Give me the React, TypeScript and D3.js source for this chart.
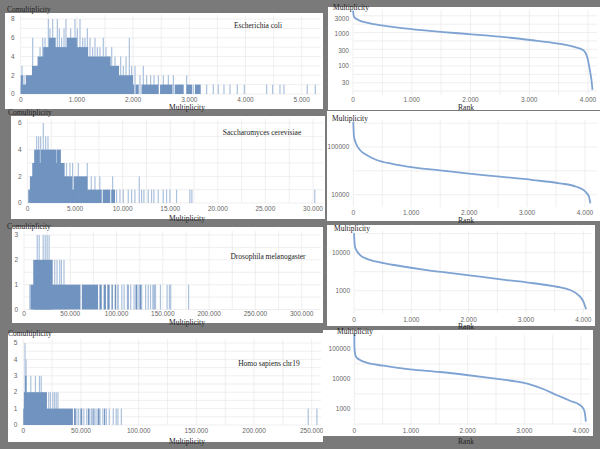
import * as d3 from 'd3'

// ---- histogram data: solid blocks [from, to, count] and single bars [multiplicity, count] ----
const ecoliSolid: [number, number, number][] = [
  [0, 40, 2], [0, 2020, 1], [2045, 2100, 1], [2150, 2450, 1], [2480, 2700, 1], [2740, 2900, 1],
  [2950, 3050, 1], [3100, 3200, 1], [90, 2000, 2], [200, 1750, 3], [300, 1600, 4],
  [400, 900, 5], [950, 1200, 5], [500, 620, 6], [820, 1000, 6],
]
const ecoliBars: [number, number][] = [
  [23, 3], [59, 2], [213, 6], [272, 3], [344, 5], [391, 6], [433, 6], [492, 8], [522, 7], [569, 8],
  [610, 6], [652, 8], [688, 7], [729, 6], [771, 7], [806, 8], [848, 6], [889, 7], [925, 6], [966, 8],
  [1008, 7], [1055, 8], [1103, 6], [1144, 6], [1186, 7], [1233, 6], [1280, 5], [1322, 6], [1364, 5],
  [1411, 5], [1470, 6], [1518, 5], [1559, 4], [1619, 5], [1678, 4], [1737, 3], [1779, 4], [1826, 3],
  [1874, 4], [1933, 6], [1974, 3], [2034, 3], [2123, 2], [2182, 3], [2241, 2], [2312, 2], [2372, 2],
  [2449, 2], [2538, 2], [2627, 2], [2716, 2], [2834, 1], [2953, 2], [3071, 1], [3190, 1], [3309, 1],
  [3427, 1], [3516, 1], [3617, 1], [3724, 1], [3854, 1], [3979, 1], [4376, 1], [4483, 1], [4613, 1],
  [4684, 1], [5099, 1], [5242, 1],
]

const yeastSolid: [number, number, number][] = [
  [80, 7800, 1], [7900, 8700, 1], [8800, 9200, 1], [250, 4700, 2], [4850, 6300, 2],
  [500, 3900, 3], [700, 1300, 4], [1400, 3000, 4], [3100, 3500, 4],
]
const yeastBars: [number, number][] = [
  [962, 5], [1172, 5], [1382, 5], [1662, 6], [1907, 5], [2152, 5], [2432, 4], [2700, 4], [3060, 4],
  [3412, 4], [3700, 3], [4100, 3], [4462, 3], [4742, 3], [5337, 3], [6282, 3], [6700, 2], [7087, 2],
  [7600, 2], [8942, 2], [11742, 2], [9012, 1], [9362, 1], [9712, 1], [10062, 1], [10587, 1],
  [10937, 1], [11287, 1], [11987, 1], [12232, 1], [12687, 1], [13037, 1], [13282, 1], [13737, 1],
  [14262, 1], [14612, 1], [14962, 1], [15662, 1], [17062, 1], [17272, 1], [30187, 1],
]

const flySolid: [number, number, number][] = [
  [7000, 61000, 1], [62500, 80000, 1], [81500, 84000, 1], [86000, 88500, 1], [90000, 92500, 1],
  [94500, 96000, 1], [98000, 99500, 1], [101000, 102000, 1], [112000, 113000, 1], [121000, 122500, 1],
  [125000, 126500, 1], [140000, 141000, 1], [10000, 31000, 2],
]
const flyBars: [number, number][] = [
  [6300, 1], [14300, 3], [16400, 3], [20700, 3], [22900, 3], [25000, 3], [27100, 3], [33200, 2],
  [35700, 2], [38600, 2], [40400, 2], [43200, 2], [105700, 1], [108200, 1], [111700, 1], [115300, 1],
  [118900, 1], [120700, 1], [124200, 1], [127100, 1], [131400, 1], [134200, 1], [136700, 1],
  [139200, 1], [142100, 1], [147400, 1], [154600, 1], [157100, 1], [158500, 1], [177800, 1],
]

const humanSolid: [number, number, number][] = [
  [0, 43000, 1], [44000, 45500, 1], [49500, 51000, 1], [56000, 57000, 1], [60000, 61000, 1],
  [64500, 66000, 1], [70000, 71000, 1], [500, 20500, 2], [1500, 2800, 3],
]
const humanBars: [number, number][] = [
  [1500, 5], [2400, 4], [6500, 3], [10500, 3], [14000, 3], [15500, 3], [22000, 2], [23500, 2],
  [25500, 2], [27000, 2], [28500, 2], [30000, 2], [44500, 1], [46500, 1], [48000, 1], [50500, 1],
  [52500, 1], [55000, 1], [57500, 1], [59000, 1], [61500, 1], [63000, 1], [65000, 1], [66500, 1],
  [69000, 1], [72000, 1], [74500, 1], [78000, 1], [80500, 1], [82000, 1], [85000, 1], [247000, 1],
  [254500, 1],
]

// ---- rank curves [rank, multiplicity] ----
const ecoliRank: [number, number][] = [
  [0, 5350], [17, 3470], [90, 2740], [233, 2260], [516, 1820], [1026, 1400], [1536, 1150],
  [2018, 980], [2500, 826], [3010, 650], [3464, 510], [3747, 400], [3917, 316], [3985, 195],
  [4031, 75], [4059, 36], [4076, 18],
]
const yeastRank: [number, number][] = [
  [0, 340000], [12, 164000], [58, 110000], [115, 86500], [230, 68000], [402, 53300], [690, 44000],
  [1034, 37500], [1494, 32500], [1954, 28100], [2529, 23900], [3103, 20300], [3563, 17300],
  [3851, 14700], [3994, 11960], [4069, 9080], [4092, 6600],
]
const flyRank: [number, number][] = [
  [0, 32500], [17, 14400], [58, 10600], [163, 7550], [396, 5790], [803, 4470], [1268, 3500],
  [1733, 2870], [2199, 2340], [2664, 1910], [3129, 1570], [3537, 1270], [3770, 1040], [3915, 770],
  [4002, 515], [4049, 325],
]
const humanRank: [number, number][] = [
  [0, 333000], [3, 105000], [29, 55500], [100, 43000], [218, 35000], [512, 27800], [982, 21000],
  [1511, 17100], [1981, 13600], [2451, 10500], [2804, 8570], [3098, 6650], [3333, 4640],
  [3569, 2930], [3804, 1890], [3980, 1360], [4039, 1055], [4069, 720], [4086, 378],
]

const rankTicks = [0, 1000, 2000, 3000, 4000]

const fmt = d3.formatLocale({ decimal: ',', thousands: '.', grouping: [3], currency: ['', ''] }).format(',')

const DARK = '#7093c0'
const LIGHT = '#abc1dd'
const LINE = '#7ea3d3'
const GRID = '#ebebeb'
const SERIF = '"Liberation Serif", "DejaVu Serif", serif'
const SANS = '"Liberation Sans", Arial, sans-serif'

type Box = { x: number; y: number; w: number; h: number }

type HistCfg = {
  id: string
  panel: Box
  title: string
  titlePos: [number, number]
  xDomain: [number, number]
  xRange: [number, number]
  yDomain: [number, number]
  yRange: [number, number]
  xTicks: number[]
  xGridStep: number
  yTicks: number[]
  yGridStep: number
  tickY: number
  labelY: number
  coLabel: [number, number]
  solid: [number, number, number][]
  bars: [number, number][]
}

function Histogram({ c }: { c: HistCfg }) {
  const x = d3.scaleLinear().domain(c.xDomain).range(c.xRange)
  const y = d3.scaleLinear().domain(c.yDomain).range(c.yRange)
  const { panel } = c
  const right = panel.x + panel.w - 2
  const top = y(c.yDomain[1]) - 4
  const xMax = x.invert(right)
  const vGrid = d3.range(0, xMax, c.xGridStep)
  const hGrid = d3.range(0, c.yDomain[1] + 1e-9, c.yGridStep)
  return (
    <g>
      <rect x={panel.x} y={panel.y} width={panel.w} height={panel.h} fill="#fff" />
      <clipPath id={c.id}>
        <rect x={panel.x} y={panel.y} width={panel.w} height={panel.h} />
      </clipPath>
      <g clipPath={`url(#${c.id})`}>
        {vGrid.map((v) => (
          <line key={'v' + v} x1={x(v)} x2={x(v)} y1={top} y2={y(0)} stroke={GRID} strokeWidth={0.8} />
        ))}
        {hGrid.map((v) => (
          <line key={'h' + v} x1={x(0)} x2={right} y1={y(v)} y2={y(v)} stroke={GRID} strokeWidth={0.8} />
        ))}
        {c.bars.map(([v, n], i) => (
          <rect key={'b' + i} x={x(v) - 0.6} width={1.2} y={y(n)} height={y(0) - y(n)} fill={LIGHT} />
        ))}
        {c.solid.map(([a, b, n], i) => (
          <rect key={'s' + i} x={x(a)} width={Math.max(1, x(b) - x(a))} y={y(n)} height={y(0) - y(n)} fill={DARK} />
        ))}
        {c.xTicks.map((v) => (
          <text key={'xt' + v} x={x(v)} y={c.tickY} textAnchor="middle" fontFamily={SANS} fontSize={6.5} fill="#666">
            {fmt(v)}
          </text>
        ))}
        {c.yTicks.map((v) => (
          <text key={'yt' + v} x={x(0) - 6} y={y(v)} dy="0.35em" textAnchor="end" fontFamily={SANS} fontSize={6.5} fill="#666">
            {v}
          </text>
        ))}
        <text x={c.titlePos[0]} y={c.titlePos[1]} textAnchor="middle" fontFamily={SERIF} fontSize={7.5} fill="#222">
          {c.title}
        </text>
      </g>
      <text x={187} y={c.labelY} textAnchor="middle" fontFamily={SERIF} fontSize={7.5} fill="#222">
        Multiplicity
      </text>
      <text x={c.coLabel[0]} y={c.coLabel[1]} fontFamily={SERIF} fontSize={7.5} fill="#222">
        Comultiplicity
      </text>
    </g>
  )
}

type RankCfg = {
  id: string
  panel: Box
  xRange: [number, number]
  yDomain: [number, number]
  yRange: [number, number]
  yTicks: number[]
  plotTop: number
  plotBottom: number
  tickY: number
  rankY: number
  multPos: [number, number]
  data: [number, number][]
}

function RankChart({ c }: { c: RankCfg }) {
  const x = d3.scaleLinear().domain([0, 4000]).range(c.xRange)
  const y = d3.scaleLog().domain(c.yDomain).range(c.yRange)
  const { panel } = c
  const right = panel.x + panel.w - 3
  const vGrid = d3.range(0, x.invert(right), 500)
  const lo = Math.log10(y.invert(c.plotBottom))
  const hi = Math.log10(y.invert(c.plotTop))
  // grid at each tick and halfway between ticks (log space)
  const ticksLog = c.yTicks.map(Math.log10)
  const step = ticksLog.length > 1 ? ticksLog[1] - ticksLog[0] : 1
  const hGrid: number[] = []
  for (let t = ticksLog[0] - 4 * step; t <= hi; t += step / 2) if (t >= lo) hGrid.push(Math.pow(10, t))
  const line = d3
    .line<[number, number]>()
    .x((d) => x(d[0]))
    .y((d) => y(d[1]))
    .curve(d3.curveMonotoneX)
  return (
    <g>
      <rect x={panel.x} y={panel.y} width={panel.w} height={panel.h} fill="#fff" />
      <clipPath id={c.id}>
        <rect x={panel.x} y={panel.y} width={panel.w} height={panel.h} />
      </clipPath>
      <g clipPath={`url(#${c.id})`}>
        {vGrid.map((v) => (
          <line key={'v' + v} x1={x(v)} x2={x(v)} y1={c.plotTop} y2={c.plotBottom} stroke={GRID} strokeWidth={0.8} />
        ))}
        {hGrid.map((v) => (
          <line key={'h' + v} x1={x(0)} x2={right} y1={y(v)} y2={y(v)} stroke={GRID} strokeWidth={0.8} />
        ))}
        <path d={line(c.data) || ''} fill="none" stroke={LINE} strokeWidth={1.8} />
        {rankTicks.map((v) => (
          <text key={'xt' + v} x={x(v)} y={c.tickY} textAnchor="middle" fontFamily={SANS} fontSize={6.5} fill="#666">
            {fmt(v)}
          </text>
        ))}
        {c.yTicks.map((v) => (
          <text key={'yt' + v} x={x(0) - 4} y={y(v)} dy="0.35em" textAnchor="end" fontFamily={SANS} fontSize={6.5} fill="#666">
            {v}
          </text>
        ))}
      </g>
      <text x={c.multPos[0]} y={c.multPos[1]} textAnchor="middle" fontFamily={SERIF} fontSize={7.5} fill="#222">
        Multiplicity
      </text>
      <text x={466} y={c.rankY} textAnchor="middle" fontFamily={SERIF} fontSize={7.5} fill="#222">
        Rank
      </text>
    </g>
  )
}

const hists: HistCfg[] = [
  {
    id: 'h1', panel: { x: 5, y: 13, w: 318, h: 96 }, title: 'Escherichia coli', titlePos: [258, 27.5],
    xDomain: [0, 5000], xRange: [20.7, 301.7], yDomain: [0, 8], yRange: [94, 19],
    xTicks: d3.range(0, 5001, 1000), xGridStep: 500, yTicks: [0, 2, 4, 6, 8], yGridStep: 1,
    tickY: 101.5, labelY: 110, coLabel: [7, 11.5], solid: ecoliSolid, bars: ecoliBars,
  },
  {
    id: 'h2', panel: { x: 11, y: 116, w: 314, h: 103 }, title: 'Saccharomyces cerevisiae', titlePos: [262, 135],
    xDomain: [0, 30000], xRange: [27.5, 313], yDomain: [0, 6], yRange: [203, 123],
    xTicks: d3.range(0, 30001, 5000), xGridStep: 2500, yTicks: [0, 2, 4, 6], yGridStep: 1,
    tickY: 210.5, labelY: 221, coLabel: [8, 115], solid: yeastSolid, bars: yeastBars,
  },
  {
    id: 'h3', panel: { x: 12, y: 227, w: 311, h: 96 }, title: 'Drosophila melanogaster', titlePos: [268, 258.5],
    xDomain: [0, 300000], xRange: [24, 301.7], yDomain: [0, 3], yRange: [309.5, 235],
    xTicks: d3.range(0, 300001, 50000), xGridStep: 25000, yTicks: [0, 1, 2, 3], yGridStep: 0.5,
    tickY: 316, labelY: 324.5, coLabel: [7, 228.5], solid: flySolid, bars: flyBars,
  },
  {
    id: 'h4', panel: { x: 8, y: 333, w: 315, h: 109 }, title: 'Homo sapiens chr19', titlePos: [269, 365.5],
    xDomain: [0, 250000], xRange: [23.3, 311.7], yDomain: [0, 5], yRange: [425, 343],
    xTicks: d3.range(0, 250001, 50000), xGridStep: 25000, yTicks: [0, 1, 2, 3, 4, 5], yGridStep: 0.5,
    tickY: 432.5, labelY: 443.5, coLabel: [8, 335.5], solid: humanSolid, bars: humanBars,
  },
]

const ranks: RankCfg[] = [
  {
    id: 'r1', panel: { x: 328, y: 7, w: 272, h: 103 }, xRange: [353, 588],
    yDomain: [10, 10000], yRange: [98, 2], yTicks: [30, 100, 300, 1000, 3000],
    plotTop: 10, plotBottom: 95, tickY: 101.5, rankY: 110, multPos: [351, 9.5], data: ecoliRank,
  },
  {
    id: 'r2', panel: { x: 327, y: 111, w: 273, h: 110 }, xRange: [353.3, 585],
    yDomain: [1000, 1000000], yRange: [242.4, 99.3], yTicks: [10000, 100000],
    plotTop: 120, plotBottom: 207, tickY: 214.5, rankY: 222.5, multPos: [350, 120.5], data: yeastRank,
  },
  {
    id: 'r3', panel: { x: 327, y: 225, w: 268, h: 101 }, xRange: [354, 583.3],
    yDomain: [100, 100000], yRange: [328.7, 214.7], yTicks: [1000, 10000],
    plotTop: 231, plotBottom: 313, tickY: 321.5, rankY: 328.5, multPos: [352, 231], data: flyRank,
  },
  {
    id: 'r4', panel: { x: 323, y: 330, w: 270, h: 106 }, xRange: [354.3, 581],
    yDomain: [100, 1000000], yRange: [439, 319], yTicks: [1000, 10000, 100000],
    plotTop: 335, plotBottom: 425, tickY: 432.5, rankY: 443.5, multPos: [355, 333.5], data: humanRank,
  },
]

export default function App() {
  return (
    <svg width={600} height={449} style={{ position: 'fixed', left: 0, top: 0 }}>
      <rect width={600} height={449} fill="#7a7a7a" />
      {hists.map((c) => (
        <Histogram key={c.id} c={c} />
      ))}
      {ranks.map((c) => (
        <RankChart key={c.id} c={c} />
      ))}
    </svg>
  )
}
